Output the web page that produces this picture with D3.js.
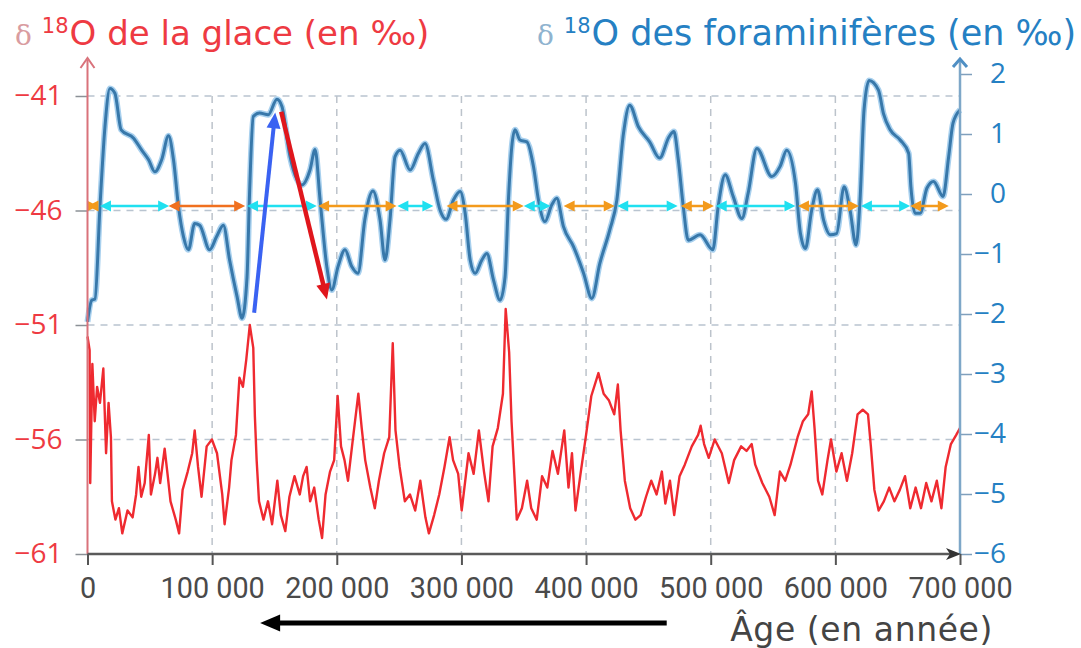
<!DOCTYPE html>
<html>
<head>
<meta charset="utf-8">
<script src="https://cdn.jsdelivr.net/npm/d3@7"></script>
<style>
  body { margin: 0; background: #fff; }
  svg { display: block; }
</style>
</head>
<body>
<div id="chart"></div>
<script>
// ---- data (ages in years) ----
const ageTicks = [0, 100000, 200000, 300000, 400000, 500000, 600000, 700000];
const iceTicks = [-61, -56, -51, -46, -41];
const foraTicks = [-6, -5, -4, -3, -2, -1, 0, 1, 2];

// δ18O des foraminifères (axe de droite)
const foraAge = [0, 3.4, 6, 10, 14, 18, 22, 27, 37, 43.5, 49, 54, 59.5, 65, 69, 73, 77, 81, 86, 90,
  98, 103.6, 109, 114, 120, 124, 128, 130, 133, 138, 145, 152, 156, 162.5, 172, 178.5, 182.6, 186.6, 192, 196,
  201, 206.6, 212, 217, 222.5, 229, 234.7, 238.7, 242.7, 246.7, 250.8, 258.8, 265.5, 270.8, 277.5, 282.9, 287.7, 293.6, 299, 303,
  307, 311, 316.4, 320.4, 325.7, 331, 335, 337.7, 340.4, 343, 347, 352.5, 357.8, 361.8, 367, 372.5, 376.5, 381.8, 390, 398,
  404.6, 411, 419, 424.7, 430, 435, 442, 451, 459, 466.5, 470.5, 474, 478, 482, 491.5, 501.7, 506, 511.6, 518, 525,
  530, 537, 549, 555.7, 561, 568, 572, 576, 581, 585.7, 590.5, 596, 601, 607, 611.8, 616.6, 619.8, 623, 627, 634.6,
  638.6, 644, 652, 658.8, 660.6, 664, 668, 673.5, 678.8, 686.4, 690.9, 694.4, 700].map(d => d * 1000);
const foraVal = [-2.13, -1.77, -1.75, -0.21, 1.12, 1.76, 1.68, 1.07, 0.93, 0.73, 0.57, 0.37, 0.57, 0.97, 0.57, -0.21, -0.71, -0.93, -0.49, -0.52,
  -0.93, -0.71, -0.52, -1.10, -1.71, -2.07, -1.38, 0.00, 1.29, 1.35, 1.32, 1.58, 1.46, 0.62, 0.15, 0.40, 0.74, -0.10, -1.21, -1.60,
  -1.21, -0.93, -1.21, -1.32, -0.43, 0.05, -0.43, -1.10, -0.43, 0.62, 0.73, 0.40, 0.68, 0.84, 0.23, -0.27, -0.42, -0.10, 0.04, -0.32,
  -1.10, -1.32, -1.10, -0.99, -1.43, -1.77, -1.38, -0.10, 0.79, 1.07, 0.90, 0.87, 0.46, -0.10, -0.46, -0.18, -0.07, -0.54, -0.88, -1.32,
  -1.74, -1.16, -0.60, -0.10, 1.01, 1.48, 1.12, 0.87, 0.60, 0.95, 1.04, 0.57, -0.21, -0.77, -0.68, -0.93, -0.21, 0.32, -0.04, -0.41,
  0.01, 0.76, 0.29, 0.46, 0.73, 0.18, -0.66, -0.91, -0.27, 0.07, -0.43, -0.68, -0.66, 0.12, -0.27, -0.85, -0.10, 1.40, 1.89, 1.73,
  1.34, 1.07, 0.90, 0.68, 0.12, -0.32, -0.32, 0.10, 0.21, -0.04, 0.62, 1.18, 1.40];

// δ18O de la glace (axe de gauche)
const iceAge = [0, 1.7, 2.2, 3.9, 5.8, 7.7, 10, 12.7, 14.9, 16.9, 18.8, 19.6, 22.4, 25.2, 27.9, 32.1, 36.2, 39, 40.9, 43.1,
  45.9, 49.2, 50.9, 54.2, 56.1, 58.3, 61.9, 64.4, 66.6, 70.8, 73.5, 76.3, 80.4, 84, 86, 88.7, 91.5, 95.6, 99.8, 103.9,
  108.1, 110, 113.6, 115.5, 119.1, 121.9, 124.7, 127.4, 130.2, 133, 134.3, 135.7, 137.6, 141.2, 144.8, 148.1, 152.3, 155.1, 158.7, 162,
  166.1, 170.3, 173, 175.8, 178.6, 181.9, 185.5, 188.2, 191, 194.6, 197.9, 200.7, 203.4, 206.2, 209, 213.1, 217.3, 220, 222.8, 226.9,
  230.5, 233.8, 238, 242.1, 244.9, 247.1, 250.4, 254.6, 258.7, 262.9, 267, 271.1, 273.9, 278.1, 282.2, 286.4, 290.5, 293.3, 297.4, 300.2,
  305.7, 309.8, 314, 318.1, 321.7, 325, 329.2, 333.3, 335.5, 338.3, 340.2, 344.4, 348.5, 352.7, 356, 360.4, 364.7, 368.9, 373.1, 377.4,
  382.5, 385.9, 388.7, 391.5, 395.8, 400, 404.2, 409.9, 414.1, 418.4, 422.6, 425.5, 427.7, 431.1, 435.4, 439.6, 443.8, 448.1, 452.3, 456.6,
  460.8, 463.6, 467.3, 470.7, 475, 479.2, 484.8, 489.9, 491.9, 494.7, 498.4, 503.2, 508.9, 514.5, 518.8, 524.4, 528.7, 532.9, 535.7, 541.4,
  547, 551.3, 555.5, 559.8, 564, 569.7, 574, 578.2, 581, 583.3, 586.1, 589.5, 593.7, 596.5, 600.8, 605, 609.3, 613.5, 617.8, 622,
  626.2, 628.5, 631.3, 634.7, 638.9, 643.2, 647.4, 651.7, 655.9, 660.1, 664.4, 668.7, 672.9, 677.1, 681.4, 685.1, 688.5, 692.7, 697, 700].map(d => d * 1000);
const iceVal = [-51.5, -52.1, -57.9, -52.7, -55.2, -53.7, -54.4, -52.9, -56.6, -54.4, -55.9, -58.7, -59.5, -59.0, -60.1, -59.1, -59.4, -58.4, -57.2, -58.5,
  -57.9, -55.8, -58.4, -57.5, -56.8, -57.9, -56.4, -57.6, -58.7, -59.5, -60.1, -58.2, -57.4, -56.6, -55.6, -57.2, -58.5, -56.3, -56.0, -56.6,
  -58.4, -59.7, -58.1, -56.9, -55.8, -53.3, -53.7, -52.5, -51.0, -52.0, -55.0, -56.9, -58.7, -59.5, -58.7, -59.7, -57.8, -59.3, -60.0, -58.5,
  -57.6, -58.4, -57.6, -57.2, -58.7, -58.1, -59.5, -60.3, -58.4, -57.4, -56.9, -54.1, -56.3, -56.9, -57.8, -55.9, -54.0, -55.5, -56.9, -58.1,
  -59.0, -57.8, -56.6, -55.9, -51.8, -55.6, -57.2, -58.7, -58.4, -59.1, -57.8, -59.4, -60.1, -59.3, -58.4, -57.2, -55.9, -56.9, -57.5, -59.1,
  -56.6, -57.5, -55.6, -57.4, -58.7, -56.3, -55.5, -54.0, -50.3, -52.2, -55.2, -59.5, -59.0, -57.8, -59.0, -59.5, -57.6, -58.1, -56.5, -57.5,
  -55.6, -58.1, -56.6, -59.1, -57.4, -55.8, -54.1, -53.1, -54.0, -54.3, -54.9, -53.6, -55.6, -57.8, -59.0, -59.5, -59.3, -58.5, -57.8, -58.4,
  -57.4, -58.8, -57.8, -59.3, -57.6, -57.1, -56.3, -55.8, -55.4, -56.2, -56.8, -56.0, -56.6, -57.9, -56.9, -56.3, -56.5, -56.2, -57.1, -57.9,
  -58.5, -59.3, -57.4, -57.8, -57.1, -55.9, -55.2, -54.9, -53.9, -55.5, -57.8, -58.4, -56.9, -56.0, -57.4, -56.6, -57.8, -56.6, -54.9, -54.7,
  -54.9, -56.3, -58.2, -59.1, -58.7, -58.1, -58.7, -58.2, -57.6, -59.0, -58.1, -59.0, -57.9, -58.7, -57.8, -59.0, -57.2, -56.2, -55.8, -55.5];

// double flèches horizontales (phases), en années
const phaseStart = [0, 10, 65, 128, 185, 248.6, 288, 350, 382, 425, 476, 504, 570, 620.5, 660].map(d => d * 1000);
const phaseEnd = [8.4, 65.5, 126.5, 184, 248, 277.5, 350, 371.5, 423, 473.5, 502.6, 568, 619, 660, 691].map(d => d * 1000);
const phaseKind = ["o", "c", "r", "c", "o", "c", "o", "c", "o", "c", "o", "c", "o", "c", "o"];
const phaseLevel = -0.2;

// flèches obliques (âge, δ18O foraminifères)
const blueArrow = [[133700, -1.98], [150600, 1.36]];
const redArrow = [[155400, 1.37], [192100, -1.76]];
const timeArrow = [464700, 138500];

// ---- layout ----
const W = 1081, H = 648;
const x = d3.scaleLinear().domain([0, 700000]).range([87.5, 960]);
const yIce = d3.scaleLinear().domain([-61, -41]).range([554, 96]);
const yFora = d3.scaleLinear().domain([-6, 2]).range([554, 74]);

const red = "#ee3a42", blue = "#2580c3";
const phaseColor = { o: "#f39a1c", r: "#f0701f", c: "#20e0f0" };

const svg = d3.select("#chart").append("svg")
    .attr("width", W)
    .attr("height", H);

svg.append("rect").attr("width", W).attr("height", H).attr("fill", "#fff");

// grille
svg.append("g")
    .selectAll("line")
    .data(iceTicks.slice(1))
    .join("line")
    .attr("x1", x(0)).attr("x2", x(700000))
    .attr("y1", d => yIce(d)).attr("y2", d => yIce(d))
    .attr("stroke", "#b9c4d0")
    .attr("stroke-width", 1.5)
    .attr("stroke-dasharray", "7,6");

svg.append("g")
    .selectAll("line")
    .data(ageTicks.slice(1, -1))
    .join("line")
    .attr("x1", d => x(d)).attr("x2", d => x(d))
    .attr("y1", yIce(-41)).attr("y2", yIce(-61))
    .attr("stroke", "#bcc3cb")
    .attr("stroke-width", 1.5)
    .attr("stroke-dasharray", "7,6");

// courbe glace
const iceLine = d3.line()
    .x(d => x(d[0]))
    .y(d => yIce(d[1]));

svg.append("path")
    .datum(d3.zip(iceAge, iceVal))
    .attr("d", iceLine)
    .attr("fill", "none")
    .attr("stroke", "#ef2a30")
    .attr("stroke-width", 2.4)
    .attr("stroke-linejoin", "round");

// courbe foraminifères
const foraLine = d3.line()
    .x(d => x(d[0]))
    .y(d => yFora(d[1]))
    .curve(d3.curveMonotoneX);

const foraData = d3.zip(foraAge, foraVal);
svg.append("path")
    .datum(foraData)
    .attr("d", foraLine)
    .attr("fill", "none")
    .attr("stroke", "#a8d0ee")
    .attr("stroke-width", 6);
svg.append("path")
    .datum(foraData)
    .attr("d", foraLine)
    .attr("fill", "none")
    .attr("stroke", "#3878aa")
    .attr("stroke-width", 3);

// pointe de flèche triangulaire
function head(tx, ty, angle, len, half) {
    const ca = Math.cos(angle), sa = Math.sin(angle);
    const bx = tx - len * ca, by = ty - len * sa;
    return `M${tx},${ty}L${bx - half * sa},${by + half * ca}L${bx + half * sa},${by - half * ca}Z`;
}

// double flèches
const py = yFora(phaseLevel);
const phases = svg.append("g")
    .selectAll("g")
    .data(d3.range(phaseStart.length))
    .join("g")
    .attr("fill", i => phaseColor[phaseKind[i]])
    .attr("stroke", i => phaseColor[phaseKind[i]]);

phases.append("line")
    .attr("x1", i => x(phaseStart[i]) + 4)
    .attr("x2", i => x(phaseEnd[i]) - 4)
    .attr("y1", py).attr("y2", py)
    .attr("stroke-width", 2.5);
phases.append("path")
    .attr("stroke", "none")
    .attr("d", i => head(x(phaseStart[i]), py, Math.PI, 11, 5.5) + head(x(phaseEnd[i]), py, 0, 11, 5.5));

// flèches bleue et rouge
function drawArrow(pts, color, w) {
    const x0 = x(pts[0][0]), y0 = yFora(pts[0][1]);
    const x1 = x(pts[1][0]), y1 = yFora(pts[1][1]);
    const a = Math.atan2(y1 - y0, x1 - x0);
    svg.append("line")
        .attr("x1", x0).attr("y1", y0)
        .attr("x2", x1 - 10 * Math.cos(a)).attr("y2", y1 - 10 * Math.sin(a))
        .attr("stroke", color)
        .attr("stroke-width", w);
    svg.append("path")
        .attr("d", head(x1, y1, a, 16, 7))
        .attr("fill", color);
}
drawArrow(blueArrow, "#3a62f2", 4);
drawArrow(redArrow, "#e0161c", 4.5);

// axes
const leftAxis = d3.axisLeft(yIce)
    .tickValues(iceTicks)
    .tickSize(12)
    .tickPadding(13);
const gl = svg.append("g")
    .attr("transform", `translate(${x(0)},0)`)
    .call(leftAxis);
gl.select(".domain").remove();
gl.selectAll(".tick line").attr("stroke", "#8b9096").attr("stroke-width", 1.5);
gl.selectAll(".tick text")
    .attr("fill", red)
    .attr("font-family", "Open Sans")
    .attr("font-size", 28);

const rightAxis = d3.axisRight(yFora)
    .tickValues(foraTicks)
    .tickSize(12);
const gr = svg.append("g")
    .attr("transform", `translate(${x(700000)},0)`)
    .call(rightAxis);
gr.select(".domain").remove();
gr.selectAll(".tick line").attr("stroke", "#7f9fbc").attr("stroke-width", 1.5);
gr.selectAll(".tick text")
    .attr("x", 46)
    .attr("text-anchor", "end")
    .attr("fill", blue)
    .attr("font-family", "Open Sans")
    .attr("font-size", 28);

const fr = d3.formatLocale({ decimal: ",", thousands: "\u00a0", grouping: [3], currency: ["", " €"] });
const bottomAxis = d3.axisBottom(x)
    .tickValues(ageTicks)
    .tickSize(11)
    .tickPadding(12)
    .tickFormat(fr.format(",d"));
const gb = svg.append("g")
    .attr("transform", `translate(0,${yIce(-61)})`)
    .call(bottomAxis);
gb.select(".domain").remove();
gb.selectAll(".tick line").attr("stroke", "#555").attr("stroke-width", 2);
gb.selectAll(".tick text")
    .attr("fill", "#4a4a4a")
    .attr("font-family", "Roboto")
    .attr("font-size", 30)
    .attr("transform", "scale(0.96,1)");

// lignes d'axes avec flèches
const axisTop = 58;
svg.append("line")
    .attr("x1", x(0)).attr("x2", x(0))
    .attr("y1", yIce(-61)).attr("y2", axisTop + 2)
    .attr("stroke", "#d9727b").attr("stroke-width", 2);
svg.append("path")
    .attr("d", `M${x(0) - 7},${axisTop + 10}L${x(0)},${axisTop}L${x(0) + 7},${axisTop + 10}`)
    .attr("fill", "none").attr("stroke", "#d9727b").attr("stroke-width", 2);

svg.append("line")
    .attr("x1", x(700000)).attr("x2", x(700000))
    .attr("y1", yFora(-6)).attr("y2", axisTop + 2)
    .attr("stroke", "#7ea7c8").attr("stroke-width", 2.5);
svg.append("path")
    .attr("d", `M${x(700000) - 7},${axisTop + 9}L${x(700000)},${axisTop + 1}L${x(700000) + 7},${axisTop + 9}`)
    .attr("fill", "none").attr("stroke", "#4f8fc4").attr("stroke-width", 3);

svg.append("line")
    .attr("x1", x(0)).attr("x2", x(700000) - 4)
    .attr("y1", yIce(-61)).attr("y2", yIce(-61))
    .attr("stroke", "#5a5a5a").attr("stroke-width", 2.5);
svg.append("path")
    .attr("d", `M${x(700000) - 14},${yIce(-61) - 6}L${x(700000) + 1},${yIce(-61)}L${x(700000) - 14},${yIce(-61) + 6}L${x(700000) - 10},${yIce(-61)}Z`)
    .attr("fill", "#333");

// flèche du temps
const ty = 623;
svg.append("line")
    .attr("x1", x(timeArrow[0])).attr("x2", x(timeArrow[1]) + 15)
    .attr("y1", ty).attr("y2", ty)
    .attr("stroke", "#000").attr("stroke-width", 5);
svg.append("path")
    .attr("d", head(x(timeArrow[1]), ty, Math.PI, 20, 8.5))
    .attr("fill", "#000");

// titres
const tl = svg.append("text")
    .attr("x", 15).attr("y", 45)
    .attr("font-family", "DejaVu Sans")
    .attr("font-size", 34)
    .attr("fill", red);
tl.append("tspan").attr("font-family", "DejaVu Serif").attr("fill", "#d99ca0").attr("font-size", 28).text("δ");
tl.append("tspan").attr("dx", 10).attr("dy", -12).attr("font-size", 21).text("18");
tl.append("tspan").attr("dx", 1).attr("dy", 12).text("O de la glace (en ‰)");

const trt = svg.append("text")
    .attr("x", 537).attr("y", 45)
    .attr("font-family", "DejaVu Sans")
    .attr("font-size", 35)
    .attr("fill", blue);
trt.append("tspan").attr("font-family", "DejaVu Serif").attr("fill", "#8fb3cf").attr("font-size", 28).text("δ");
trt.append("tspan").attr("dx", 10).attr("dy", -12).attr("font-size", 21).text("18");
trt.append("tspan").attr("dx", 1).attr("dy", 12).text("O des foraminifères (en ‰)");

svg.append("text")
    .attr("x", 993).attr("y", 641)
    .attr("text-anchor", "end")
    .attr("font-family", "DejaVu Sans")
    .attr("font-size", 33)
    .attr("letter-spacing", 0.6)
    .attr("fill", "#444")
    .text("Âge (en année)");
</script>
</body>
</html>
